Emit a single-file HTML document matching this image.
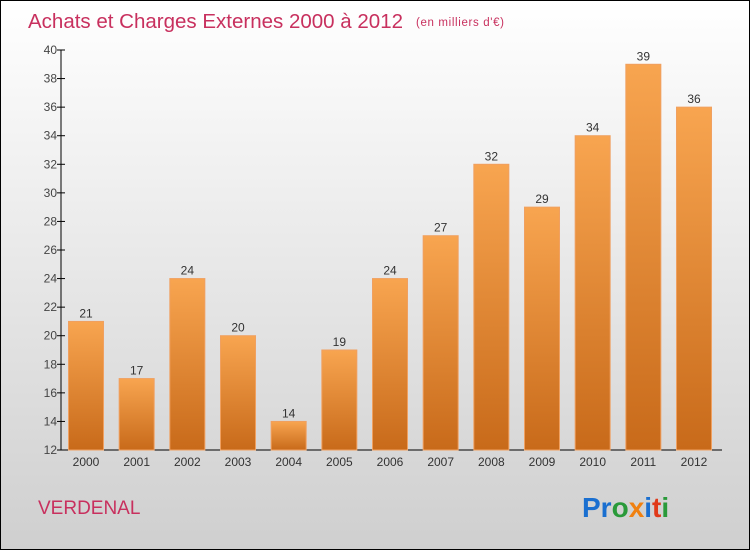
<!DOCTYPE html>
<html><head><meta charset="utf-8"><style>
body{margin:0;}
#c{width:750px;height:550px;position:relative;box-sizing:border-box;border:1px solid #000;background:linear-gradient(#ffffff,#cfcfcf);font-family:"Liberation Sans",sans-serif;overflow:hidden}
</style></head><body>
<div id="c">
<svg width="750" height="550" style="position:absolute;left:-1px;top:-1px">
<defs><linearGradient id="bg" x1="0" y1="0" x2="0" y2="1"><stop offset="0" stop-color="#f8a550"/><stop offset="1" stop-color="#c86a1a"/></linearGradient></defs>
<text x="28" y="28" font-size="20.5" fill="#c8305e" textLength="375">Achats et Charges Externes 2000 à 2012</text>
<text x="416" y="26" font-size="11.5" fill="#c8305e" textLength="88">(en milliers d'€)</text>
<g id="axes"></g><g id="bars"></g>
<text x="38" y="514" font-size="19" fill="#c8305e">VERDENAL</text>
<text x="582" y="517" font-size="28" font-weight="bold"><tspan fill="#1a6fd0">Pr</tspan><tspan fill="#2a9a3a">o</tspan><tspan fill="#f08010">x</tspan><tspan fill="#1a6fd0">i</tspan><tspan fill="#e03a1a">t</tspan><tspan fill="#2a9a3a">i</tspan></text>
</svg></div>
<script>
const years=["2000","2001","2002","2003","2004","2005","2006","2007","2008","2009","2010","2011","2012"];
const values=[21,17,24,20,14,19,24,27,32,29,34,39,36];
const ticks=[12,14,16,18,20,22,24,26,28,30,32,34,36,38,40];
const NS="http://www.w3.org/2000/svg";
const y0=450,y1=50,vmin=12,vmax=40,xL=61,xR=722;
const bx0=86,bx1=694;
const ys=v=>y0-(v-vmin)/(vmax-vmin)*(y0-y1);
const xs=i=>bx0+(bx1-bx0)*i/(years.length-1);
function mk(t,a,p){const e=document.createElementNS(NS,t);for(const k in a)e.setAttribute(k,a[k]);p.appendChild(e);return e;}
const ax=document.getElementById('axes'),bg=document.getElementById('bars');
let l=mk('line',{x1:xL,y1:y1,x2:xL,y2:y0,stroke:'#000'},ax);


l=mk('line',{x1:xL,y1:y0,x2:xR,y2:y0,stroke:'#000'},ax);


ticks.forEach(t=>{
 mk('line',{x1:xL-4,y1:ys(t),x2:xL+4,y2:ys(t),stroke:'#000'},ax);
 const tx=mk('text',{x:xL-4,y:ys(t)+4,'font-size':12,fill:'#444','text-anchor':'end'},ax);
 tx.textContent=t;
 
 
});
years.forEach((yr,i)=>{
 const cx=xs(i),w=35,v=values[i];
 const r=mk('rect',{x:cx-w/2,y:ys(v),width:w,height:y0-ys(v),fill:'url(#bg)',stroke:'#f0a060','stroke-width':1},bg);
 
 
 const lb=mk('text',{x:cx,y:ys(v)-4,'font-size':12,fill:'#333','text-anchor':'middle'},bg);
 lb.textContent=v;
 
 
 const xl=mk('text',{x:cx,y:466,'font-size':12,fill:'#333','text-anchor':'middle'},bg);
 xl.textContent=yr;
 
 
});
</script>
</body></html>
